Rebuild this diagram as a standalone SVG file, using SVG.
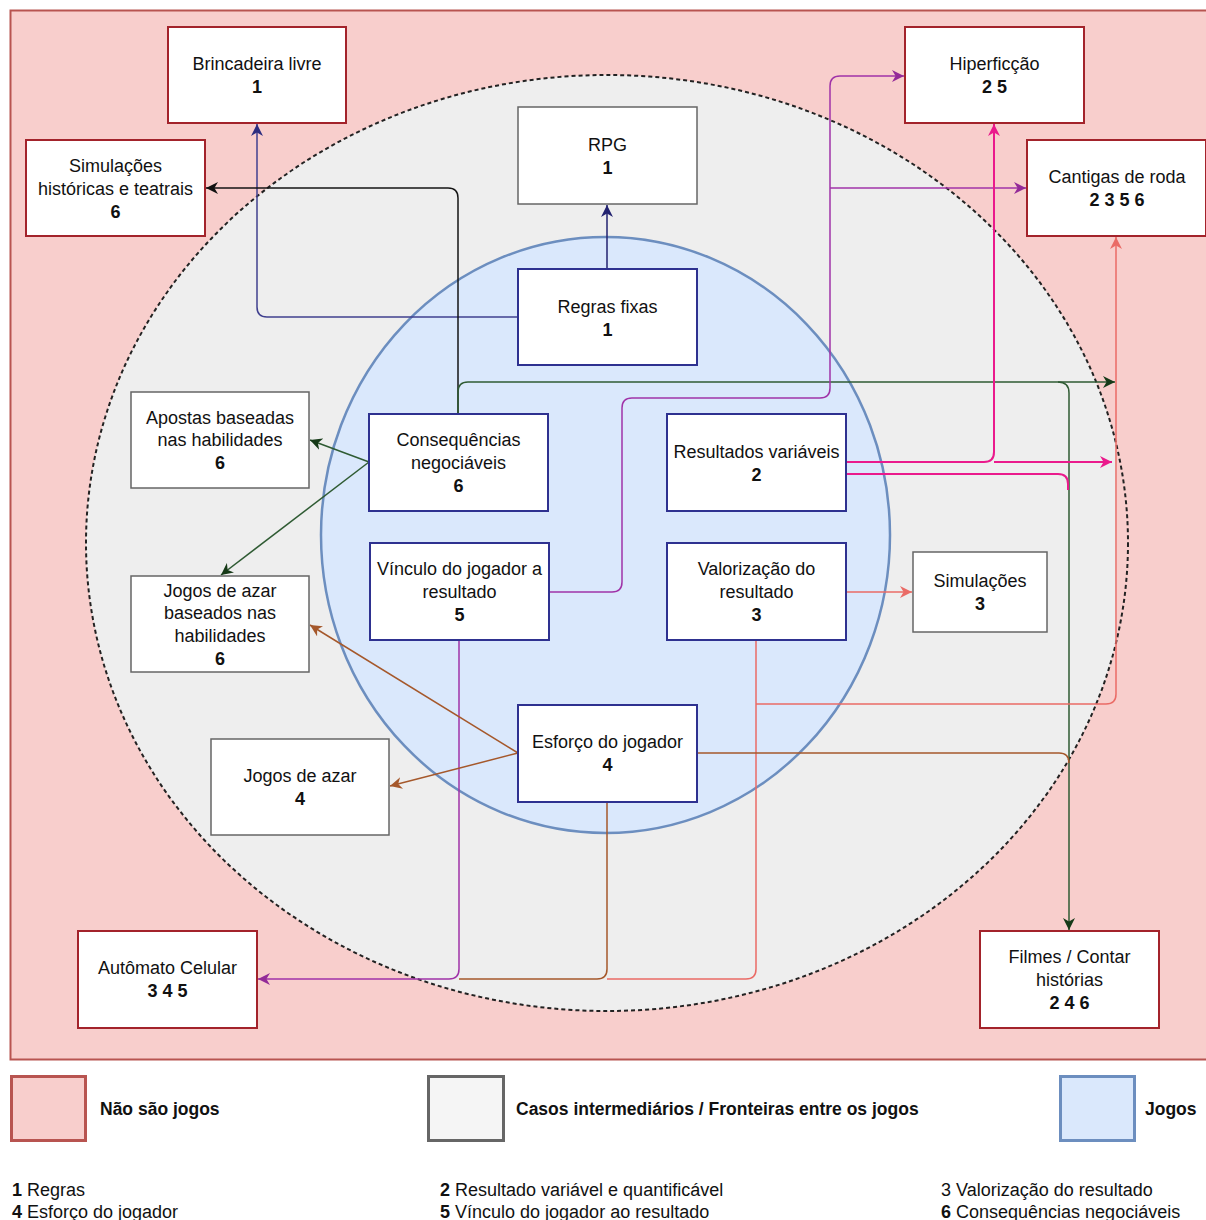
<svg xmlns="http://www.w3.org/2000/svg" width="1206" height="1220" viewBox="0 0 1206 1220">
<style>
text{font-family:"Liberation Sans",Arial,sans-serif;font-size:18px;fill:#111;text-anchor:middle}
.b{font-weight:bold}
.l{text-anchor:start}
.lg{font-size:17.5px;font-weight:bold;text-anchor:start}
.red rect{fill:#fff;stroke:#a3232b;stroke-width:2}
.grey rect{fill:#fff;stroke:#666;stroke-width:1.5}
.blue rect{fill:#fff;stroke:#2e3190;stroke-width:2}
#connectors path{fill:none;stroke-width:1.5}
.navy{stroke:#222270}
.navy2{stroke:#40408f}
.blk{stroke:#151515}
.grn{stroke:#2f5b33}
.pur{stroke:#a033a8}
.pnk{stroke:#ea1a8c;stroke-width:2!important}
.crl{stroke:#ea6b66}
.brn{stroke:#a5582b}
</style>
<defs>
<marker id="aNavy" markerUnits="userSpaceOnUse" markerWidth="12" markerHeight="12" refX="10" refY="5" orient="auto" viewBox="0 0 10 10"><path d="M0,0 L10,5 L0,10 L3,5 z" fill="#222270"/></marker>
<marker id="aNavy2" markerUnits="userSpaceOnUse" markerWidth="12" markerHeight="12" refX="10" refY="5" orient="auto" viewBox="0 0 10 10"><path d="M0,0 L10,5 L0,10 L3,5 z" fill="#2d2d80"/></marker>
<marker id="aBlk" markerUnits="userSpaceOnUse" markerWidth="12" markerHeight="12" refX="10" refY="5" orient="auto" viewBox="0 0 10 10"><path d="M0,0 L10,5 L0,10 L3,5 z" fill="#111"/></marker>
<marker id="aGrn" markerUnits="userSpaceOnUse" markerWidth="12" markerHeight="12" refX="10" refY="5" orient="auto" viewBox="0 0 10 10"><path d="M0,0 L10,5 L0,10 L3,5 z" fill="#163a18"/></marker>
<marker id="aPur" markerUnits="userSpaceOnUse" markerWidth="12" markerHeight="12" refX="10" refY="5" orient="auto" viewBox="0 0 10 10"><path d="M0,0 L10,5 L0,10 L3,5 z" fill="#932a98"/></marker>
<marker id="aPnk" markerUnits="userSpaceOnUse" markerWidth="12" markerHeight="12" refX="10" refY="5" orient="auto" viewBox="0 0 10 10"><path d="M0,0 L10,5 L0,10 L3,5 z" fill="#ea1a8c"/></marker>
<marker id="aCrl" markerUnits="userSpaceOnUse" markerWidth="12" markerHeight="12" refX="10" refY="5" orient="auto" viewBox="0 0 10 10"><path d="M0,0 L10,5 L0,10 L3,5 z" fill="#ea6b66"/></marker>
<marker id="aBrn" markerUnits="userSpaceOnUse" markerWidth="12" markerHeight="12" refX="10" refY="5" orient="auto" viewBox="0 0 10 10"><path d="M0,0 L10,5 L0,10 L3,5 z" fill="#a5582b"/></marker>
</defs>
<rect width="1206" height="1220" fill="#fff"/>
<g id="regions">
<rect x="10.5" y="10.5" width="1210" height="1049" fill="#f8cecc" stroke="#b85450" stroke-width="2"/>
<ellipse cx="607" cy="543" rx="521" ry="468" fill="#eeeeee"/>
<rect x="1117" y="236" width="89" height="822" fill="#f8cecc"/>
<ellipse cx="607" cy="543" rx="521" ry="468" fill="none" stroke="#222" stroke-width="2" stroke-dasharray="4 3"/>
<ellipse cx="605.5" cy="535" rx="284.5" ry="298" fill="#dae8fc" stroke="#6c8ebf" stroke-width="2.5"/>
</g>
<g id="connectors">
<path class="navy" d="M607,269 V205" marker-end="url(#aNavy)"/>
<path class="navy2" d="M518,317 H267 Q257,317 257,307 V124" marker-end="url(#aNavy2)"/>
<path class="blk" d="M458,414 V198 Q458,188 448,188 H206" marker-end="url(#aBlk)"/>
<path class="grn" d="M458,414 V392 Q458,382 468,382 H1115" marker-end="url(#aGrn)"/>
<path class="grn" d="M1058,382 Q1069,382 1069,393 V930" marker-end="url(#aGrn)"/>
<path class="grn" d="M369,462 L310,440" marker-end="url(#aGrn)"/>
<path class="grn" d="M369,462 L221,575" marker-end="url(#aGrn)"/>
<path class="pur" d="M550,592 H612 Q622,592 622,582 V408 Q622,398 632,398 H820 Q830,398 830,388 V86 Q830,76 840,76 H904" marker-end="url(#aPur)"/>
<path class="pur" d="M830,188 H1026" marker-end="url(#aPur)"/>
<path class="pur" d="M459,640 V969 Q459,979 449,979 H258" marker-end="url(#aPur)"/>
<path class="brn" d="M607,802 V969 Q607,979 597,979 H459"/>
<path class="crl" d="M756,640 V969 Q756,979 746,979 H607"/>
<path class="crl" d="M756,704 H1106 Q1116,704 1116,694 V237" marker-end="url(#aCrl)"/>
<path class="crl" d="M846,592 H912" marker-end="url(#aCrl)"/>
<path class="pnk" d="M846,462 H984 Q994,462 994,452 V124" marker-end="url(#aPnk)"/>
<path class="pnk" d="M994,462 H1112" marker-end="url(#aPnk)"/>
<path class="pnk" d="M846,474 H1058 Q1068,474 1068,484 V490"/>
<path class="brn" d="M518,753 L310,625" marker-end="url(#aBrn)"/>
<path class="brn" d="M518,753 L390,786" marker-end="url(#aBrn)"/>
<path class="brn" d="M697,753 H1059 Q1069,753 1069,763"/>
</g>
<g id="brincadeira" class="red"><rect x="168" y="27" width="178" height="96"/><text x="257" y="70">Brincadeira livre</text><text x="257" y="93" class="b">1</text></g>
<g id="simhist" class="red"><rect x="26" y="140" width="179" height="96"/><text x="115.5" y="172">Simulações</text><text x="115.5" y="195">históricas e teatrais</text><text x="115.5" y="218" class="b">6</text></g>
<g id="rpg" class="grey"><rect x="518" y="107" width="179" height="97"/><text x="607.5" y="151">RPG</text><text x="607.5" y="174" class="b">1</text></g>
<g id="hiperficcao" class="red"><rect x="905" y="27" width="179" height="96"/><text x="994.5" y="70">Hiperficção</text><text x="994.5" y="93" class="b">2 5</text></g>
<g id="cantigas" class="red"><rect x="1027" y="140" width="179" height="96"/><text x="1117" y="183">Cantigas de roda</text><text x="1117" y="206" class="b">2 3 5 6</text></g>
<g id="regras" class="blue"><rect x="518" y="269" width="179" height="96"/><text x="607.5" y="313">Regras fixas</text><text x="607.5" y="336" class="b">1</text></g>
<g id="apostas" class="grey"><rect x="131" y="392" width="178" height="96"/><text x="220" y="424">Apostas baseadas</text><text x="220" y="446">nas habilidades</text><text x="220" y="469" class="b">6</text></g>
<g id="consequencias" class="blue"><rect x="369" y="414" width="179" height="97"/><text x="458.5" y="446">Consequências</text><text x="458.5" y="469">negociáveis</text><text x="458.5" y="492" class="b">6</text></g>
<g id="resultados" class="blue"><rect x="667" y="414" width="179" height="97"/><text x="756.5" y="458">Resultados variáveis</text><text x="756.5" y="481" class="b">2</text></g>
<g id="azarhab" class="grey"><rect x="131" y="576" width="178" height="96"/><text x="220" y="597">Jogos de azar</text><text x="220" y="619">baseados nas</text><text x="220" y="642">habilidades</text><text x="220" y="665" class="b">6</text></g>
<g id="vinculo" class="blue"><rect x="370" y="543" width="179" height="97"/><text x="459.5" y="575">Vínculo do jogador a</text><text x="459.5" y="598">resultado</text><text x="459.5" y="621" class="b">5</text></g>
<g id="valorizacao" class="blue"><rect x="667" y="543" width="179" height="97"/><text x="756.5" y="575">Valorização do</text><text x="756.5" y="598">resultado</text><text x="756.5" y="621" class="b">3</text></g>
<g id="simulacoes" class="grey"><rect x="913" y="552" width="134" height="80"/><text x="980" y="587">Simulações</text><text x="980" y="610" class="b">3</text></g>
<g id="esforco" class="blue"><rect x="518" y="705" width="179" height="97"/><text x="607.5" y="748">Esforço do jogador</text><text x="607.5" y="771" class="b">4</text></g>
<g id="azar" class="grey"><rect x="211" y="739" width="178" height="96"/><text x="300" y="782">Jogos de azar</text><text x="300" y="805" class="b">4</text></g>
<g id="automato" class="red"><rect x="78" y="931" width="179" height="97"/><text x="167.5" y="974">Autômato Celular</text><text x="167.5" y="997" class="b">3 4 5</text></g>
<g id="filmes" class="red"><rect x="980" y="931" width="179" height="97"/><text x="1069.5" y="963">Filmes / Contar</text><text x="1069.5" y="986">histórias</text><text x="1069.5" y="1009" class="b">2 4 6</text></g>
<g id="legend">
<rect x="11.5" y="1076.5" width="74" height="64" fill="#f8cecc" stroke="#b85450" stroke-width="3"/>
<text x="100" y="1115" class="lg">Não são jogos</text>
<rect x="428.5" y="1076.5" width="75" height="64" fill="#f5f5f5" stroke="#666" stroke-width="3"/>
<text x="516" y="1115" class="lg">Casos intermediários / Fronteiras entre os jogos</text>
<rect x="1060.5" y="1076.5" width="74" height="64" fill="#dae8fc" stroke="#6c8ebf" stroke-width="3"/>
<text x="1145" y="1115" class="lg">Jogos</text>
<text x="12" y="1196" class="l"><tspan class="b">1</tspan> Regras</text>
<text x="12" y="1218" class="l"><tspan class="b">4</tspan> Esforço do jogador</text>
<text x="440" y="1196" class="l"><tspan class="b">2</tspan> Resultado variável e quantificável</text>
<text x="440" y="1218" class="l"><tspan class="b">5</tspan> Vínculo do jogador ao resultado</text>
<text x="941" y="1196" class="l">3 Valorização do resultado</text>
<text x="941" y="1218" class="l"><tspan class="b">6</tspan> Consequências negociáveis</text>
</g>
</svg>
